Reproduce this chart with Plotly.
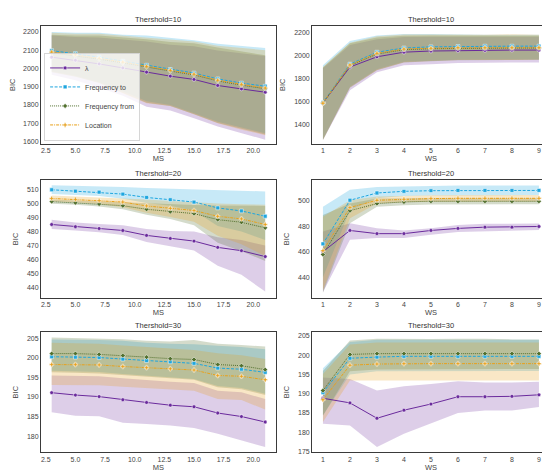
import plotly.graph_objects as go
from plotly.subplots import make_subplots

# x values
MS = [3, 5, 7, 9, 11, 13, 15, 17, 19, 21]
WS = [1, 2, 3, 4, 5, 6, 7, 8, 9]
series = ["λ", "Frequency to", "Frequency from", "Location"]

# Thershold=10, MS
t10_ms_mean = {
    "λ": [2062, 2045, 2025, 2003, 1980, 1958, 1940, 1907, 1888, 1870],
    "Frequency to": [2098, 2082, 2062, 2040, 2018, 1995, 1975, 1943, 1920, 1903],
    "Frequency from": [2086, 2070, 2051, 2031, 2007, 1986, 1965, 1932, 1909, 1889],
    "Location": [2090, 2075, 2056, 2035, 2011, 1990, 1969, 1936, 1913, 1893],
}
t10_ms_lo = {
    "λ": [1965, 1935, 1895, 1850, 1790, 1770, 1728, 1682, 1648, 1610],
    "Frequency to": [1985, 1960, 1925, 1875, 1820, 1800, 1755, 1708, 1675, 1645],
    "Frequency from": [1980, 1955, 1920, 1868, 1812, 1795, 1750, 1702, 1668, 1638],
    "Location": [1982, 1957, 1922, 1865, 1810, 1795, 1750, 1700, 1665, 1635],
}
t10_ms_hi = {
    "λ": [2180, 2172, 2170, 2160, 2148, 2130, 2122, 2098, 2085, 2068],
    "Frequency to": [2200, 2195, 2195, 2185, 2180, 2168, 2155, 2135, 2125, 2112],
    "Frequency from": [2185, 2180, 2180, 2170, 2160, 2145, 2138, 2115, 2095, 2072],
    "Location": [2195, 2190, 2190, 2180, 2172, 2158, 2148, 2125, 2112, 2100],
}

# Thershold=10, WS
t10_ws_mean = {
    "λ": [1590, 1900, 1988, 2028, 2038, 2042, 2044, 2046, 2046],
    "Frequency to": [1592, 1925, 2028, 2064, 2074, 2078, 2080, 2080, 2080],
    "Frequency from": [1590, 1913, 2012, 2050, 2058, 2062, 2063, 2064, 2064],
    "Location": [1588, 1918, 2018, 2055, 2062, 2066, 2066, 2066, 2066],
}
t10_ws_lo = {
    "λ": [1270, 1700, 1855, 1915, 1925, 1935, 1938, 1940, 1940],
    "Frequency to": [1275, 1730, 1880, 1945, 1955, 1962, 1965, 1965, 1965],
    "Frequency from": [1272, 1722, 1872, 1940, 1950, 1958, 1960, 1962, 1962],
    "Location": [1270, 1725, 1875, 1942, 1952, 1960, 1962, 1962, 1962],
}
t10_ws_hi = {
    "λ": [1890, 2090, 2140, 2160, 2162, 2162, 2162, 2162, 2162],
    "Frequency to": [1915, 2125, 2172, 2185, 2185, 2180, 2178, 2178, 2178],
    "Frequency from": [1895, 2105, 2155, 2170, 2172, 2170, 2170, 2172, 2170],
    "Location": [1900, 2110, 2165, 2180, 2180, 2178, 2178, 2182, 2178],
}

# Thershold=20, MS
t20_ms_mean = {
    "λ": [485.1, 483.5, 482.2, 480.8, 477.3, 475.1, 473.2, 468.7, 466.3, 462.1],
    "Frequency to": [510.0, 509.0, 508.3, 506.9, 504.5, 502.9, 501.2, 497.0, 494.8, 491.0],
    "Frequency from": [501.5, 500.7, 499.8, 498.6, 496.0, 494.3, 492.9, 488.6, 486.7, 482.7],
    "Location": [503.8, 503.1, 502.2, 501.2, 498.4, 496.7, 495.1, 491.0, 489.1, 485.1],
}
t20_ms_lo = {
    "λ": [481.8, 480.8, 479.5, 477.5, 472.5, 469.5, 466.5, 455.5, 449.0, 437.0],
    "Frequency to": [507.0, 506.2, 505.5, 503.5, 500.5, 498.5, 495.0, 484.0, 480.0, 474.0],
    "Frequency from": [500.0, 499.2, 498.0, 496.0, 492.0, 489.0, 484.5, 472.0, 466.0, 459.0],
    "Location": [501.8, 501.0, 499.8, 497.5, 493.5, 490.5, 487.0, 477.0, 471.0, 462.5],
}
t20_ms_hi = {
    "λ": [488.5, 486.5, 485.5, 484.5, 481.8, 480.5, 480.0, 476.0, 474.0, 470.0],
    "Frequency to": [513.3, 513.0, 512.6, 512.0, 511.2, 510.7, 510.2, 509.7, 509.3, 508.8],
    "Frequency from": [503.0, 502.3, 501.8, 501.0, 500.0, 499.5, 499.0, 498.8, 498.6, 498.4],
    "Location": [505.8, 505.2, 504.7, 504.0, 503.0, 502.0, 501.0, 500.2, 499.6, 499.2],
}

# Thershold=20, WS
t20_ws_mean = {
    "λ": [460.1, 476.8, 474.3, 474.3, 476.8, 478.4, 479.4, 479.4, 479.9],
    "Frequency to": [466.3, 500.5, 506.2, 507.5, 508.0, 508.2, 508.2, 508.2, 508.2],
    "Frequency from": [458.0, 492.3, 497.9, 499.2, 499.7, 499.7, 499.7, 499.7, 499.7],
    "Location": [460.9, 494.8, 500.5, 501.3, 501.8, 502.0, 502.0, 502.0, 502.0],
}
t20_ws_lo = {
    "λ": [428.4, 469.6, 470.9, 470.9, 473.5, 475.5, 476.5, 476.6, 477.2],
    "Frequency to": [440.0, 492.5, 502.0, 503.8, 504.3, 504.6, 504.6, 504.6, 504.6],
    "Frequency from": [428.0, 482.5, 495.4, 496.6, 497.2, 497.4, 497.4, 497.4, 497.4],
    "Location": [429.7, 486.4, 497.9, 499.0, 499.4, 499.6, 499.6, 499.6, 499.6],
}
t20_ws_hi = {
    "λ": [476.0, 482.5, 478.6, 476.8, 478.6, 481.0, 482.0, 482.0, 482.3],
    "Frequency to": [495.4, 508.8, 510.8, 511.3, 512.0, 512.1, 512.1, 512.1, 512.1],
    "Frequency from": [489.0, 498.0, 501.8, 502.3, 502.3, 502.3, 502.3, 502.3, 502.3],
    "Location": [487.6, 500.5, 503.5, 504.2, 504.5, 504.6, 504.6, 504.6, 504.6],
}

# Thershold=30, MS
t30_ms_mean = {
    "λ": [191.1, 190.5, 190.1, 189.3, 188.6, 187.9, 187.5, 185.9, 185.0, 183.6],
    "Frequency to": [200.3, 200.2, 200.1, 199.7, 199.3, 199.0, 198.6, 197.4, 197.1, 196.3],
    "Frequency from": [201.1, 201.1, 200.9, 200.6, 200.2, 199.8, 199.6, 198.3, 198.0, 197.0],
    "Location": [198.3, 198.3, 198.2, 197.8, 197.5, 197.2, 196.9, 195.5, 195.3, 194.4],
}
t30_ms_lo = {
    "λ": [186.1, 185.2, 185.1, 183.4, 183.1, 182.7, 182.1, 180.6, 178.9, 177.2],
    "Frequency to": [196.7, 196.6, 196.4, 195.9, 195.4, 195.0, 194.6, 192.8, 192.3, 190.8],
    "Frequency from": [196.3, 196.2, 196.0, 195.6, 195.2, 194.8, 194.4, 192.5, 192.0, 190.5],
    "Location": [193.1, 193.1, 193.0, 192.6, 192.2, 191.9, 191.6, 189.5, 189.2, 186.8],
}
t30_ms_hi = {
    "λ": [195.5, 195.4, 195.3, 194.8, 194.3, 193.9, 193.6, 191.6, 191.2, 189.5],
    "Frequency to": [204.7, 204.7, 204.6, 204.4, 203.9, 203.6, 203.5, 203.1, 202.8, 202.2],
    "Frequency from": [205.2, 205.1, 205.0, 204.8, 204.4, 204.2, 204.6, 203.6, 203.3, 202.9],
    "Location": [203.9, 203.8, 203.6, 203.2, 202.8, 202.4, 202.0, 201.2, 200.7, 199.7],
}

# Thershold=30, WS
t30_ws_mean = {
    "λ": [188.8, 187.6, 183.6, 185.7, 187.3, 189.2, 189.2, 189.3, 189.7],
    "Frequency to": [190.3, 199.2, 199.5, 199.7, 199.7, 199.7, 199.7, 199.7, 199.7],
    "Frequency from": [190.8, 200.2, 200.4, 200.4, 200.4, 200.4, 200.4, 200.4, 200.4],
    "Location": [188.4, 197.4, 197.7, 197.8, 197.8, 197.8, 197.8, 197.8, 197.8],
}
t30_ws_lo = {
    "λ": [182.2, 181.7, 176.1, 179.6, 182.2, 185.0, 185.6, 185.6, 186.5],
    "Frequency to": [184.3, 195.0, 195.8, 195.9, 195.9, 195.9, 195.9, 195.9, 195.9],
    "Frequency from": [184.3, 195.8, 196.3, 196.4, 196.4, 196.4, 196.4, 196.4, 196.4],
    "Location": [182.6, 193.4, 193.4, 193.4, 193.4, 193.4, 193.4, 193.4, 193.4],
}
t30_ws_hi = {
    "λ": [194.2, 193.8, 190.8, 191.9, 192.5, 193.2, 192.9, 192.9, 193.1],
    "Frequency to": [196.6, 203.4, 204.0, 204.0, 204.0, 204.0, 204.0, 204.0, 204.0],
    "Frequency from": [195.9, 203.8, 204.3, 204.2, 204.2, 204.3, 204.3, 204.1, 204.1],
    "Location": [195.1, 202.8, 203.3, 203.3, 203.3, 203.3, 203.3, 203.3, 203.3],
}

colors = {"λ": "#6a2a9c", "Frequency to": "#1ea6df",
          "Frequency from": "#52702e", "Location": "#e8a11c"}
fills = {"λ": "rgba(106,42,156,0.23)", "Frequency to": "rgba(30,166,223,0.25)",
         "Frequency from": "rgba(82,112,46,0.25)", "Location": "rgba(232,161,28,0.25)"}
dashes = {"λ": "solid", "Frequency to": "3px,1.5px",
          "Frequency from": "1px,1px", "Location": "3px,1px,1px,1px"}
symbols = {"λ": "circle", "Frequency to": "square",
           "Frequency from": "diamond", "Location": "cross"}

panels = [
    (1, 1, MS, t10_ms_mean, t10_ms_lo, t10_ms_hi, "Thershold=10", "MS"),
    (1, 2, WS, t10_ws_mean, t10_ws_lo, t10_ws_hi, "Thershold=10", "WS"),
    (2, 1, MS, t20_ms_mean, t20_ms_lo, t20_ms_hi, "Thershold=20", "MS"),
    (2, 2, WS, t20_ws_mean, t20_ws_lo, t20_ws_hi, "Thershold=20", "WS"),
    (3, 1, MS, t30_ms_mean, t30_ms_lo, t30_ms_hi, "Thershold=30", "MS"),
    (3, 2, WS, t30_ws_mean, t30_ws_lo, t30_ws_hi, "Thershold=30", "WS"),
]

yranges = {(1, 1): [1587, 2234], (1, 2): [1237, 2256],
           (2, 1): [432.4, 517.1], (2, 2): [423.8, 516.5],
           (3, 1): [175.9, 206.6], (3, 2): [174.8, 206.0]}
yticks = {(1, 1): list(range(1600, 2201, 100)), (1, 2): list(range(1400, 2201, 200)),
          (2, 1): list(range(440, 511, 10)), (2, 2): list(range(440, 501, 20)),
          (3, 1): list(range(180, 206, 5)), (3, 2): list(range(175, 206, 5))}

fig = make_subplots(rows=3, cols=2)

for r, c, xs, mean, lo, hi, title, xlab in panels:
    # bands first, under all lines
    for s in series:
        fig.add_trace(go.Scatter(
            x=xs + xs[::-1], y=hi[s] + lo[s][::-1],
            fill="toself", fillcolor=fills[s], line=dict(width=0),
            mode="lines", hoverinfo="skip", showlegend=False,
        ), row=r, col=c)
    for s in series:
        fig.add_trace(go.Scatter(
            x=xs, y=mean[s], name=s, mode="lines+markers",
            line=dict(color=colors[s], width=1, dash=dashes[s]),
            marker=dict(symbol=symbols[s], size=3.8, color=colors[s],
                        line=dict(color="white", width=0.5)),
            showlegend=(r == 1 and c == 1), legendrank=series.index(s),
        ), row=r, col=c)

xdom = {1: [0.06, 0.487], 2: [0.553, 0.985]}
ydom = {1: [0.709, 0.962], 2: [0.379, 0.632], 3: [0.049, 0.306]}

font = "Liberation Sans, Arial, sans-serif"
for r, c, xs, mean, lo, hi, title, xlab in panels:
    idx = (r - 1) * 2 + c
    sfx = "" if idx == 1 else str(idx)
    xa = dict(domain=xdom[c], showline=True, mirror=True, linecolor="#3a3a3a",
              linewidth=1, showgrid=False, zeroline=False, ticks="",
              tickfont=dict(size=7, color="#444"),
              title=dict(text=xlab, font=dict(size=7.5, color="#444"), standoff=2))
    if c == 1:
        xa.update(range=[2.1, 21.9], tickvals=[2.5, 5, 7.5, 10, 12.5, 15, 17.5, 20],
                  tickformat=".1f")
    else:
        xa.update(range=[0.6, 9.4], tickvals=WS)
    ya = dict(domain=ydom[r], range=yranges[(r, c)], tickvals=yticks[(r, c)],
              showline=True, mirror=True, linecolor="#3a3a3a", linewidth=1,
              showgrid=False, zeroline=False, ticks="",
              tickfont=dict(size=7, color="#444"),
              title=dict(text="BIC", font=dict(size=7.5, color="#444"), standoff=7))
    fig.layout["xaxis" + sfx].update(xa)
    fig.layout["yaxis" + sfx].update(ya)
    fig.add_annotation(text=title, xref="paper", yref="paper",
                       x=sum(xdom[c]) / 2, y=ydom[r][1], yanchor="bottom",
                       xanchor="center", showarrow=False, yshift=0,
                       font=dict(size=7.5, color="#333"))

fig.update_layout(
    width=550, height=470,
    margin=dict(l=0, r=0, t=0, b=0),
    paper_bgcolor="white", plot_bgcolor="white",
    font=dict(family=font, color="#444"),
    legend=dict(x=0.066, y=0.716, xanchor="left", yanchor="bottom",
                bgcolor="rgba(255,255,255,0.8)", bordercolor="#cccccc",
                borderwidth=0.8, font=dict(size=7, color="#444"),
                itemwidth=30, tracegroupgap=0),
)

fig.write_html("out.html")
